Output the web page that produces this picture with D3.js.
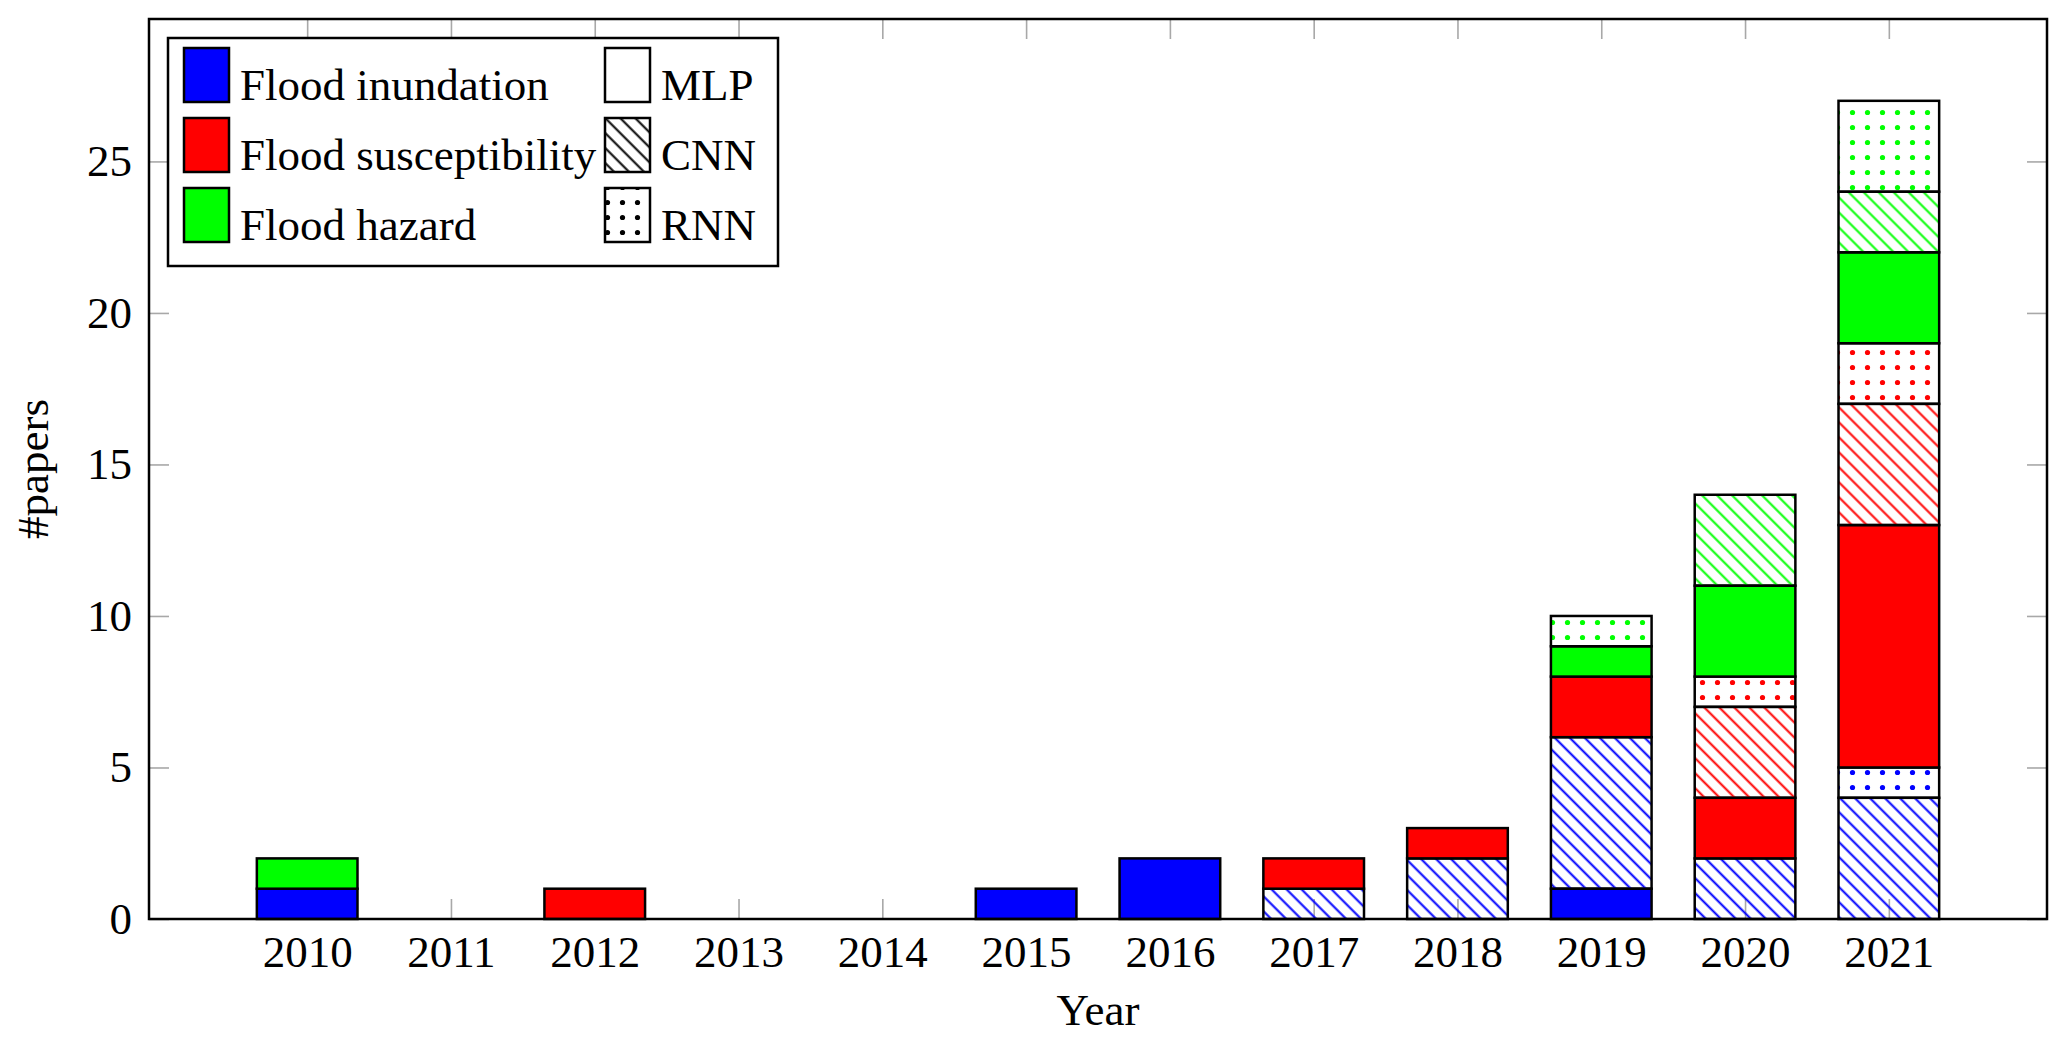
<!DOCTYPE html>
<html>
<head>
<meta charset="utf-8">
<script src="https://cdn.jsdelivr.net/npm/d3@7"></script>
<style>
  body { margin: 0; background: #fff; }
  svg { display: block; font-family: "Liberation Serif", "Times New Roman", serif; }
</style>
</head>
<body>
<svg id="chart" width="2067" height="1044"></svg>
<script>
// papers per year, split by task and by model type
const years = [2010, 2011, 2012, 2013, 2014, 2015, 2016, 2017, 2018, 2019, 2020, 2021];

const inundationMLP     = [1, 0, 0, 0, 0, 1, 2, 0, 0, 1, 0, 0];
const inundationCNN     = [0, 0, 0, 0, 0, 0, 0, 1, 2, 5, 2, 4];
const inundationRNN     = [0, 0, 0, 0, 0, 0, 0, 0, 0, 0, 0, 1];
const susceptibilityMLP = [0, 0, 1, 0, 0, 0, 0, 1, 1, 2, 2, 8];
const susceptibilityCNN = [0, 0, 0, 0, 0, 0, 0, 0, 0, 0, 3, 4];
const susceptibilityRNN = [0, 0, 0, 0, 0, 0, 0, 0, 0, 0, 1, 2];
const hazardMLP         = [1, 0, 0, 0, 0, 0, 0, 0, 0, 1, 3, 3];
const hazardCNN         = [0, 0, 0, 0, 0, 0, 0, 0, 0, 0, 3, 2];
const hazardRNN         = [0, 0, 0, 0, 0, 0, 0, 0, 0, 1, 0, 3];

const taskNames = ["Flood inundation", "Flood susceptibility", "Flood hazard"];
const taskColors = ["#0000ff", "#ff0000", "#00ff00"];
const modelNames = ["MLP", "CNN", "RNN"];

const yTicks = [0, 5, 10, 15, 20, 25];

// stacking order, bottom to top
const series = [
  { values: inundationMLP, task: 0, model: "MLP" },
  { values: inundationCNN, task: 0, model: "CNN" },
  { values: inundationRNN, task: 0, model: "RNN" },
  { values: susceptibilityMLP, task: 1, model: "MLP" },
  { values: susceptibilityCNN, task: 1, model: "CNN" },
  { values: susceptibilityRNN, task: 1, model: "RNN" },
  { values: hazardMLP, task: 2, model: "MLP" },
  { values: hazardCNN, task: 2, model: "CNN" },
  { values: hazardRNN, task: 2, model: "RNN" },
];

const svg = d3.select("#chart");
const plot = { left: 149, right: 2047, top: 19, bottom: 919 };
const FS = 45;

const x = d3.scaleLinear().domain([2008.9, 2022.1]).range([plot.left, plot.right]);
const y = d3.scaleLinear().domain([0, 29.7]).range([plot.bottom, plot.top]);
const barW = x(2010.7) - x(2010);

// -------------------- patterns --------------------
const defs = svg.append("defs");
const patColors = { blue: "#0000ff", red: "#ff0000", green: "#00ff00", black: "#000000" };
Object.entries(patColors).forEach(([name, c]) => {
  const h = defs.append("pattern")
    .attr("id", `hatch-${name}`)
    .attr("patternUnits", "userSpaceOnUse")
    .attr("width", 10.6)
    .attr("height", 10.6)
    .attr("patternTransform", "rotate(-45)");
  h.append("line")
    .attr("x1", 5.3).attr("y1", -2)
    .attr("x2", 5.3).attr("y2", 13)
    .attr("stroke", c)
    .attr("stroke-width", 2);

  const d = defs.append("pattern")
    .attr("id", `dots-${name}`)
    .attr("patternUnits", "userSpaceOnUse")
    .attr("width", 15)
    .attr("height", 15);
  d.append("circle")
    .attr("cx", 7.5).attr("cy", 7.5).attr("r", 2.6)
    .attr("fill", c);
});
const colorKey = ["blue", "red", "green"];

function fillFor(model, key, solid) {
  if (model === "MLP") return solid;
  if (model === "CNN") return `url(#hatch-${key})`;
  return `url(#dots-${key})`;
}

// -------------------- ticks (drawn behind bars) --------------------
const tickStyle = g => {
  g.select(".domain").remove();
  g.selectAll(".tick line").attr("stroke", "#a8a8a8").attr("stroke-width", 1.6);
  g.selectAll(".tick text")
    .attr("font-family", "Liberation Serif, Times New Roman, serif")
    .attr("font-size", FS)
    .attr("fill", "#000");
};

svg.append("g")
  .attr("transform", `translate(0,${plot.bottom})`)
  .call(d3.axisBottom(x).tickValues(years).tickFormat(d3.format("d")).tickSize(-20).tickPadding(16))
  .call(tickStyle);

svg.append("g")
  .attr("transform", `translate(0,${plot.top})`)
  .call(d3.axisTop(x).tickValues(years).tickFormat("").tickSize(-20))
  .call(tickStyle);

svg.append("g")
  .attr("transform", `translate(${plot.left},0)`)
  .call(d3.axisLeft(y).tickValues(yTicks).tickSize(-20).tickPadding(17))
  .call(tickStyle);

svg.append("g")
  .attr("transform", `translate(${plot.right},0)`)
  .call(d3.axisRight(y).tickValues(yTicks).tickFormat("").tickSize(-20))
  .call(tickStyle);

// -------------------- stacked bars --------------------
const segs = [];
years.forEach((yr, i) => {
  let base = 0;
  series.forEach(s => {
    const v = s.values[i];
    if (v > 0) segs.push({ year: yr, y0: base, y1: base + v, task: s.task, model: s.model });
    base += v;
  });
});

svg.append("g")
  .selectAll("rect")
  .data(segs)
  .enter()
  .append("rect")
  .attr("x", d => x(d.year) - barW / 2)
  .attr("y", d => y(d.y1))
  .attr("width", barW)
  .attr("height", d => y(d.y0) - y(d.y1))
  .attr("fill", d => fillFor(d.model, colorKey[d.task], taskColors[d.task]))
  .attr("stroke", "#000")
  .attr("stroke-width", 2.5);

// axis frame
svg.append("rect")
  .attr("x", plot.left)
  .attr("y", plot.top)
  .attr("width", plot.right - plot.left)
  .attr("height", plot.bottom - plot.top)
  .attr("fill", "none")
  .attr("stroke", "#000")
  .attr("stroke-width", 2.5);

// axis labels
svg.append("text")
  .attr("x", (plot.left + plot.right) / 2)
  .attr("y", 1025)
  .attr("text-anchor", "middle")
  .attr("font-size", FS)
  .text("Year");

svg.append("text")
  .attr("transform", `translate(48,${(plot.top + plot.bottom) / 2}) rotate(-90)`)
  .attr("text-anchor", "middle")
  .attr("font-size", FS)
  .text("#papers");

// -------------------- legend --------------------
const lg = svg.append("g");
lg.append("rect")
  .attr("x", 168).attr("y", 38)
  .attr("width", 610).attr("height", 228)
  .attr("fill", "#fff")
  .attr("stroke", "#000")
  .attr("stroke-width", 2.5);

const rowTop = [48, 118, 188];
taskNames.forEach((name, i) => {
  lg.append("rect")
    .attr("x", 184).attr("y", rowTop[i])
    .attr("width", 45).attr("height", 54)
    .attr("fill", taskColors[i])
    .attr("stroke", "#000").attr("stroke-width", 2.5);
  lg.append("text")
    .attr("x", 240).attr("y", rowTop[i] + 52)
    .attr("font-size", FS)
    .text(name);
});

modelNames.forEach((name, i) => {
  lg.append("rect")
    .attr("x", 605).attr("y", rowTop[i])
    .attr("width", 45).attr("height", 54)
    .attr("fill", fillFor(name, "black", "#fff"))
    .attr("stroke", "#000").attr("stroke-width", 2.5);
  lg.append("text")
    .attr("x", 661).attr("y", rowTop[i] + 52)
    .attr("font-size", FS)
    .text(name);
});
</script>
</body>
</html>
